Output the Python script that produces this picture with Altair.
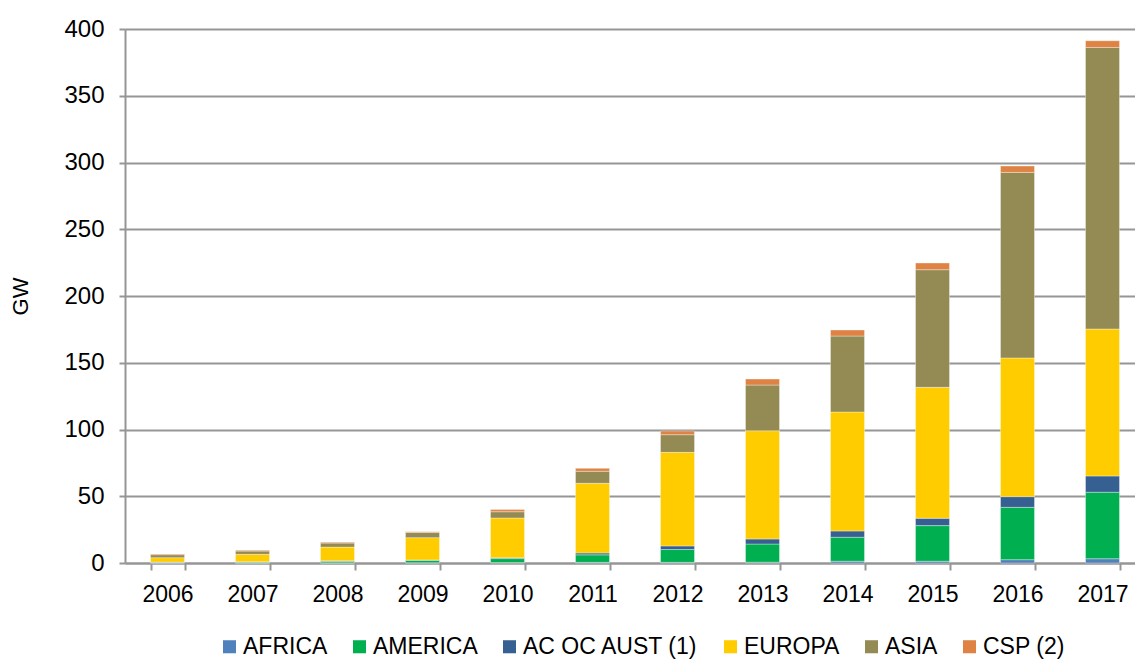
import altair as alt
import pandas as pd

# Installed PV capacity by region (GW), cumulative per year
years = ["2006", "2007", "2008", "2009", "2010", "2011",
         "2012", "2013", "2014", "2015", "2016", "2017"]
series_names = ["AFRICA", "AMERICA", "AC OC AUST (1)", "EUROPA", "ASIA", "CSP (2)"]
series_colors = ["#4F81BD", "#00B050", "#376092", "#FFCC00", "#948A54", "#DE8344"]

africa = [0.1, 0.1, 0.1, 0.2, 0.3, 0.5, 0.5, 0.6, 1.3, 1.3, 2.5, 3.2]
america = [0.5, 0.7, 1.2, 1.8, 3.0, 5.6, 9.6, 13.6, 18.0, 26.7, 39.2, 49.8]
ac_oc_aust = [0.1, 0.1, 0.3, 0.3, 0.6, 1.4, 2.7, 3.8, 4.7, 5.5, 8.0, 12.2]
europa = [3.3, 5.6, 10.3, 16.7, 29.8, 52.2, 70.1, 81.1, 89.1, 98.1, 103.9, 110.1]
asia = [2.2, 2.4, 3.0, 3.8, 4.7, 9.0, 13.2, 34.2, 56.9, 88.1, 139.0, 210.9]
csp = [0.5, 0.6, 0.7, 0.7, 1.6, 2.2, 2.8, 4.5, 4.5, 5.0, 4.8, 5.0]

y_ticks = [0, 50, 100, 150, 200, 250, 300, 350, 400]

series_values = [africa, america, ac_oc_aust, europa, asia, csp]
rows = []
for idx, (name, values) in enumerate(zip(series_names, series_values)):
    for year, v in zip(years, values):
        rows.append({"year": year, "region": name, "gw": v, "stack_order": idx})
df = pd.DataFrame(rows)

FONT = "Liberation Sans"
GRAY = "#969696"

bars = alt.Chart(df).mark_bar(stroke="white", strokeWidth=0.5, strokeOpacity=0.7).encode(
    x=alt.X(
        "year:N",
        sort=years,
        title=None,
        scale=alt.Scale(range=[0, 1020], paddingInner=0.6, paddingOuter=0.3),
        axis=alt.Axis(
            labelAngle=0,
            labelFontSize=23,
            labelFont=FONT,
            labelColor="black",
            labelPadding=13,
            tickBand="extent",
            tickSize=7,
            tickColor=GRAY,
            tickWidth=2,
            domainColor=GRAY,
            domainWidth=2,
            grid=False,
        ),
    ),
    y=alt.Y(
        "gw:Q",
        stack="zero",
        title="GW",
        scale=alt.Scale(domain=[0, 400], nice=False),
        axis=alt.Axis(
            values=y_ticks,
            labelFontSize=24,
            labelFont=FONT,
            labelColor="black",
            labelPadding=15,
            tickSize=6,
            tickColor=GRAY,
            tickWidth=2,
            domainColor=GRAY,
            domainWidth=2,
            gridColor=GRAY,
            gridWidth=2,
            titleFontSize=22,
            titleFont=FONT,
            titleFontWeight="normal",
            titleColor="black",
            titlePadding=31,
        ),
    ),
    color=alt.Color(
        "region:N",
        sort=series_names,
        scale=alt.Scale(domain=series_names, range=series_colors),
        legend=alt.Legend(
            title=None,
            orient="none",
            legendX=93,
            legendY=606,
            direction="horizontal",
            columns=6,
            symbolType="square",
            symbolSize=170,
            symbolStrokeWidth=0,
            labelFontSize=23,
            labelFont=FONT,
            labelColor="black",
            labelLimit=400,
            labelOffset=2,
            columnPadding=20,
            padding=0,
        ),
    ),
    order=alt.Order("stack_order:Q", sort="ascending"),
)

chart = bars.properties(
    width=1010,
    height=534,
    autosize=alt.AutoSizeParams(type="none"),
    padding={"left": 125, "top": 29, "right": 0, "bottom": 96},
).configure_view(stroke=None).configure(font=FONT)

chart.save("out.html", embed_options={"renderer": "svg", "actions": False})
